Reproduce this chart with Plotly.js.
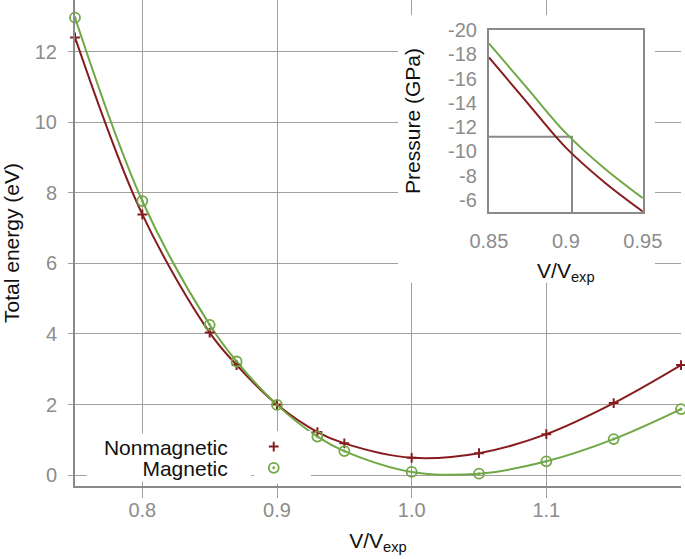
<!DOCTYPE html>
<html>
<head>
<meta charset="utf-8">
<script src="https://cdn.plot.ly/plotly-3.0.1.min.js"></script>
<style>html,body{margin:0;padding:0;background:#fff;}#chart{width:685px;height:559px;}</style>
</head>
<body>
<div id="chart"></div>
<script>
// ---- data ----
const volume = [0.75, 0.80, 0.85, 0.87, 0.90, 0.93, 0.95, 1.00, 1.05, 1.10, 1.15, 1.20];
const energyNonmagnetic = [12.41, 7.39, 4.04, 3.12, 2.00, 1.22, 0.90, 0.49, 0.62, 1.16, 2.04, 3.12];
const energyMagnetic = [12.97, 7.77, 4.26, 3.22, 1.99, 1.09, 0.68, 0.09, 0.04, 0.39, 1.02, 1.87];

const insetVolume = [0.85, 0.875, 0.90, 0.925, 0.95];
const pressureNonmagnetic = [-17.75, -14.0, -10.3, -7.45, -5.03];
const pressureMagnetic = [-18.9, -15.2, -11.5, -8.6, -6.13];

const transitionVolume = 0.904;
const transitionPressure = -11.2;

const seriesNames = ['Nonmagnetic', 'Magnetic'];
const mainXTicks = [0.8, 0.9, 1.0, 1.1];
const mainYTicks = [0, 2, 4, 6, 8, 10, 12];
const insetXTicks = [0.85, 0.9, 0.95];
const insetYTicks = [-20, -18, -16, -14, -12, -10, -8, -6];
const insetYTickText = ['-20', '-18', '-16', '-14', '-12', '-10', '-8', '-6'];

// ---- styling ----
const RED = '#861c1e';
const GREEN = '#70a845';
const GRAY = '#8a8a8a';
const GRID = '#a0a0a0';
const FONT = 'Liberation Sans, Arial, Helvetica, sans-serif';
const tickFont = {family: FONT, size: 20, color: '#8c8c8c'};
const titleFont = {family: FONT, size: 21, color: '#111'};
const NB = '\u00a0';

const traces = [
  // main curves
  {x: volume, y: energyNonmagnetic, xaxis: 'x', yaxis: 'y', mode: 'lines', name: seriesNames[0],
   line: {color: RED, width: 2, shape: 'spline'}, showlegend: false, hoverinfo: 'skip'},
  {x: volume, y: energyMagnetic, xaxis: 'x', yaxis: 'y', mode: 'lines', name: seriesNames[1],
   line: {color: GREEN, width: 2, shape: 'spline'}, showlegend: false, hoverinfo: 'skip'},
  // main points (legend symbols; the labels sit to their left)
  {x: volume, y: energyNonmagnetic, xaxis: 'x', yaxis: 'y', mode: 'markers', name: NB.repeat(3),
   marker: {symbol: 'cross-thin-open', size: 7, color: RED, line: {color: RED, width: 2}}, cliponaxis: false},
  {x: volume, y: energyMagnetic, xaxis: 'x', yaxis: 'y', mode: 'markers', name: NB.repeat(3),
   marker: {symbol: 'circle-open-dot', size: 10, color: GREEN, line: {color: GREEN, width: 1.8}}, cliponaxis: false},
  // cover subplot (white background behind inset)
  {x: [], y: [], xaxis: 'x2', yaxis: 'y2', mode: 'markers', showlegend: false, hoverinfo: 'skip'},
  // inset guide lines
  {x: [insetVolume[0], transitionVolume, transitionVolume], y: [transitionPressure, transitionPressure, -5],
   xaxis: 'x3', yaxis: 'y3', mode: 'lines', line: {color: GRAY, width: 2}, showlegend: false, hoverinfo: 'skip'},
  // inset curves
  {x: insetVolume, y: pressureNonmagnetic, xaxis: 'x3', yaxis: 'y3', mode: 'lines', name: seriesNames[0] + ' pressure',
   line: {color: RED, width: 2, shape: 'spline'}, showlegend: false, cliponaxis: false},
  {x: insetVolume, y: pressureMagnetic, xaxis: 'x3', yaxis: 'y3', mode: 'lines', name: seriesNames[1] + ' pressure',
   line: {color: GREEN, width: 2, shape: 'spline'}, showlegend: false, cliponaxis: false}
];

const labelAnn = (text, y) => ({
  text: text + NB.repeat(4), xref: 'paper', yref: 'paper', x: 0.2929, y: y,
  xanchor: 'right', yanchor: 'middle', align: 'right', width: 164, height: 26,
  showarrow: false, bgcolor: '#ffffff', borderpad: 0,
  font: {family: FONT, size: 21, color: '#111'}
});

const layout = {
  width: 685, height: 559,
  margin: {l: 75, r: 4, t: 0, b: 73, pad: 0},
  paper_bgcolor: '#ffffff', plot_bgcolor: '#ffffff',
  font: {family: FONT},
  showlegend: true,
  legend: {
    xanchor: 'right', yanchor: 'middle', x: 0.389, y: 0.0586,
    bgcolor: '#ffffff', borderwidth: 0, traceorder: 'normal',
    font: {family: FONT, size: 14, color: '#111'}, itemwidth: 30, tracegroupgap: 0
  },
  annotations: [labelAnn(seriesNames[1], 0.037), labelAnn(seriesNames[0], 0.0802)],
  xaxis: {
    domain: [0, 1], range: [0.75, 1.2], anchor: 'y',
    tickvals: mainXTicks, tickformat: '.1f', tickfont: tickFont,
    showgrid: true, gridcolor: GRID, gridwidth: 1,
    showline: true, linecolor: GRAY, linewidth: 2,
    ticks: 'outside', ticklen: 10, tickcolor: GRID, tickwidth: 1, ticklabelstandoff: -5,
    zeroline: false,
    title: {text: 'V/V<sub>exp</sub>', font: titleFont, standoff: 13}
  },
  yaxis: {
    domain: [0, 1], range: [-0.31, 13.47], anchor: 'x',
    tickvals: mainYTicks, tickfont: tickFont,
    showgrid: true, gridcolor: GRID, gridwidth: 1,
    showline: true, linecolor: GRAY, linewidth: 2,
    ticks: 'outside', ticklen: 5, tickcolor: GRID, tickwidth: 1, ticklabelstandoff: 7,
    zeroline: false,
    title: {text: 'Total energy (eV)', font: titleFont, standoff: 10}
  },
  xaxis2: {domain: [0.533, 0.957], range: [0, 1], anchor: 'y2', visible: false},
  yaxis2: {domain: [0.418, 0.969], range: [0, 1], anchor: 'x2', visible: false},
  xaxis3: {
    domain: [0.683, 0.937], range: [0.85, 0.95], anchor: 'y3',
    tickvals: insetXTicks, tickfont: tickFont, ticks: '', ticklabelstandoff: 10,
    showgrid: false, zeroline: false,
    showline: true, mirror: true, linecolor: GRAY, linewidth: 2,
    title: {text: 'V/V<sub>exp</sub>', font: titleFont, standoff: 12}
  },
  yaxis3: {
    domain: [0.564, 0.938], range: [-5, -20], anchor: 'x3',
    tickvals: insetYTicks, ticktext: insetYTickText, tickfont: tickFont, ticks: '', ticklabelstandoff: 6,
    showgrid: false, zeroline: false,
    showline: true, mirror: true, linecolor: GRAY, linewidth: 2,
    title: {text: 'Pressure (GPa)', font: titleFont, standoff: 22}
  }
};

Plotly.newPlot('chart', traces, layout, {displayModeBar: false, staticPlot: true});
</script>
</body>
</html>
